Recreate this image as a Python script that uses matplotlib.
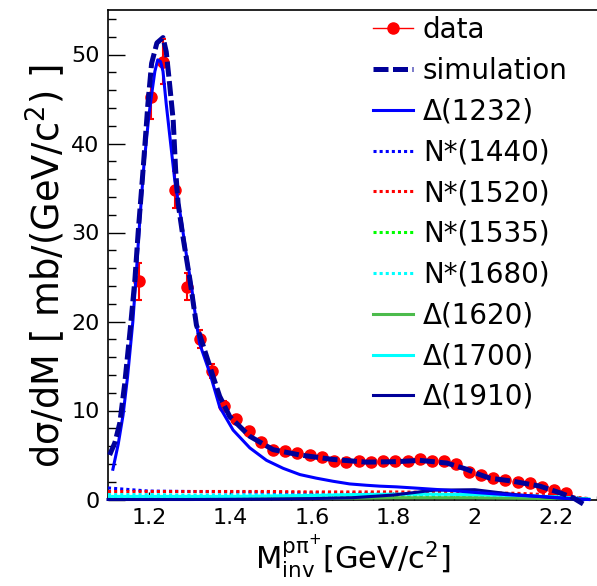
import matplotlib
matplotlib.use("Agg")
import matplotlib.pyplot as plt
from matplotlib.lines import Line2D
from matplotlib.ticker import MultipleLocator

plt.rcParams['font.family'] = ['DejaVu Sans']
plt.rcParams['mathtext.fontset'] = 'dejavusans'

# measured data points (bin centres, dsigma/dM, errors)
data_x = [1.175, 1.205, 1.235, 1.265, 1.295, 1.325, 1.355, 1.385, 1.415, 1.445,
          1.475, 1.505, 1.535, 1.565, 1.595, 1.625, 1.655, 1.685, 1.715, 1.745,
          1.775, 1.805, 1.835, 1.865, 1.895, 1.925, 1.955, 1.985, 2.015, 2.045,
          2.075, 2.105, 2.135, 2.165, 2.195, 2.225]
data_y = [24.5, 45.2, 49.2, 34.8, 23.9, 18.0, 14.4, 10.5, 9.0, 7.7,
          6.5, 5.6, 5.4, 5.2, 4.95, 4.75, 4.3, 4.25, 4.3, 4.25,
          4.3, 4.3, 4.35, 4.5, 4.35, 4.3, 4.0, 3.1, 2.7, 2.4,
          2.2, 2.0, 1.8, 1.4, 1.1, 0.75]
data_err = [2.1, 2.5, 2.5, 2.1, 1.5, 1.0, 0.8, 0.6, 0.5, 0.4,
            0.3, 0.3, 0.3, 0.3, 0.3, 0.3, 0.3, 0.3, 0.3, 0.3,
            0.3, 0.3, 0.3, 0.3, 0.3, 0.3, 0.3, 0.3, 0.3, 0.3,
            0.3, 0.3, 0.3, 0.3, 0.3, 0.3]

# total simulation
sim_x = [1.104, 1.117, 1.129, 1.141, 1.156, 1.166, 1.174, 1.186, 1.198, 1.207,
         1.220, 1.235, 1.243, 1.252, 1.260, 1.266, 1.272, 1.284, 1.301, 1.317,
         1.325, 1.358, 1.374, 1.399, 1.448, 1.505, 1.571, 1.652, 1.734, 1.808,
         1.865, 1.931, 1.980, 2.012, 2.037, 2.094, 2.160, 2.209, 2.241, 2.266]
sim_y = [5.0, 6.4, 8.6, 13.0, 19.8, 24.7, 30.0, 37.0, 44.5, 49.0,
         51.3, 51.9, 50.3, 46.3, 42.6, 37.0, 33.3, 29.5, 24.7, 19.6,
         18.5, 13.8, 11.6, 9.3, 7.1, 5.6, 5.0, 4.5, 4.2, 4.25,
         4.4, 4.1, 3.4, 2.8, 2.4, 2.05, 1.5, 0.75, 0.2, -0.5]

# Delta(1232) contribution
d1232_x = [1.112, 1.125, 1.137, 1.148, 1.161, 1.170, 1.178, 1.188, 1.200, 1.207,
           1.215, 1.222, 1.229, 1.235, 1.243, 1.252, 1.264, 1.280, 1.292, 1.305,
           1.317, 1.325, 1.350, 1.374, 1.407, 1.448, 1.489, 1.530, 1.571, 1.611,
           1.652, 1.693, 1.734, 1.767, 1.808, 1.849, 1.931, 2.012, 2.094, 2.176,
           2.258, 2.28]
d1232_y = [3.4, 6.2, 9.5, 13.8, 20.0, 25.8, 31.4, 37.5, 43.0, 45.5,
           48.1, 49.4, 49.2, 48.1, 44.4, 40.7, 35.8, 31.3, 27.6, 23.9,
           19.8, 17.5, 14.2, 10.4, 7.8, 5.8, 4.4, 3.5, 2.8, 2.4,
           2.05, 1.75, 1.6, 1.5, 1.42, 1.3, 1.05, 0.75, 0.5, 0.3,
           0.02, 0.0]

# small resonance contributions
comp_x = [1.10, 1.20, 1.30, 1.40, 1.50, 1.60, 1.70, 1.80, 1.90, 2.00, 2.10, 2.20, 2.28]
n1440 = [1.3, 0.95, 0.9, 0.85, 0.8, 0.75, 0.7, 0.65, 0.6, 0.5, 0.4, 0.25, 0.05]
n1520 = [0.9, 0.9, 0.9, 0.9, 0.9, 0.85, 0.85, 0.85, 0.8, 0.75, 0.7, 0.5, 0.1]
n1535 = [0.3, 0.3, 0.3, 0.3, 0.35, 0.35, 0.35, 0.35, 0.3, 0.3, 0.25, 0.15, 0.02]
n1680 = [0.55, 0.55, 0.5, 0.5, 0.5, 0.5, 0.55, 0.55, 0.55, 0.5, 0.45, 0.3, 0.05]
d1620 = [0.0, 0.02, 0.03, 0.05, 0.08, 0.12, 0.15, 0.2, 0.2, 0.2, 0.15, 0.1, 0.02]
d1700 = [0.35, 0.35, 0.35, 0.35, 0.4, 0.45, 0.55, 0.6, 0.6, 0.55, 0.45, 0.3, 0.05]
d1910 = [0.0, 0.0, 0.0, 0.02, 0.05, 0.1, 0.2, 0.5, 1.05, 1.1, 0.55, 0.18, 0.0]

navy = '#000099'
dot = (0, (1, 1))

fig = plt.figure(figsize=(5.97, 5.86), dpi=100)
ax = fig.add_axes([108 / 597, 86.5 / 586, 489 / 597, 489.5 / 586])

ax.errorbar(data_x, data_y, yerr=data_err, fmt='o', color='red', ms=8,
            elinewidth=1.5, capsize=2.5, capthick=1.5, zorder=2)

ax.plot(comp_x, n1440, color='blue', lw=2.2, ls=dot, zorder=3)
ax.plot(comp_x, n1520, color='red', lw=2.2, ls=dot, zorder=3)
ax.plot(comp_x, n1535, color='#00ff00', lw=2.2, ls=dot, zorder=3)
ax.plot(comp_x, n1680, color='cyan', lw=2.2, ls=dot, zorder=3)
ax.plot(comp_x, d1620, color='#4cbb4c', lw=2.2, zorder=3)
ax.plot(comp_x, d1700, color='cyan', lw=2.2, zorder=3)
ax.plot(comp_x, d1910, color=navy, lw=2.2, zorder=3, clip_on=False)

ax.plot(d1232_x, d1232_y, color='blue', lw=2.2, zorder=4, clip_on=False)
ax.plot(sim_x, sim_y, color=navy, lw=3.6, dashes=(3, 0.9), zorder=5, clip_on=False)

ax.set_xlim(1.1, 2.3)
ax.set_ylim(0, 55)
ax.xaxis.set_minor_locator(MultipleLocator(0.05))
ax.yaxis.set_major_locator(MultipleLocator(10))
ax.yaxis.set_minor_locator(MultipleLocator(2))
ax.set_xticks([1.2, 1.4, 1.6, 1.8, 2.0, 2.2])
ax.set_xticklabels(['1.2', '1.4', '1.6', '1.8', '2', '2.2'])
ax.tick_params(axis='both', which='both', direction='in', labelsize=16, width=1)
ax.tick_params(axis='y', which='major', length=12, pad=6)
ax.tick_params(axis='y', which='minor', length=6)
ax.tick_params(axis='x', which='major', length=6, pad=6)
ax.tick_params(axis='x', which='minor', length=3)
ax.spines['right'].set_visible(False)
for s in ['left', 'bottom', 'top']:
    ax.spines[s].set_linewidth(1.2)

fig.text(46 / 597, 1 - 266 / 586, 'dσ/dM [ mb/(GeV/c$^{2}$) ]',
         rotation=90, ha='center', va='center', fontsize=26.5)
fig.text(353 / 597, 1 - 570 / 586,
         r'M$_{\mathrm{inv}}^{\mathrm{pπ^{+}}}$[GeV/c$^{2}$]',
         ha='center', va='baseline', fontsize=22)

handles = [
    Line2D([], [], color='red', lw=1, marker='o', ms=8),
    Line2D([], [], color=navy, lw=3.6, dashes=(3, 0.9)),
    Line2D([], [], color='blue', lw=2.2),
    Line2D([], [], color='blue', lw=2.2, ls=dot),
    Line2D([], [], color='red', lw=2.2, ls=dot),
    Line2D([], [], color='#00ff00', lw=2.2, ls=dot),
    Line2D([], [], color='cyan', lw=2.2, ls=dot),
    Line2D([], [], color='#4cbb4c', lw=2.2),
    Line2D([], [], color='cyan', lw=2.2),
    Line2D([], [], color=navy, lw=2.2),
]
labels = ['data', 'simulation', 'Δ(1232)', 'N*(1440)', 'N*(1520)', 'N*(1535)',
          'N*(1680)', 'Δ(1620)', 'Δ(1700)', 'Δ(1910)']
leg = ax.legend(handles, labels, loc='upper left',
                bbox_to_anchor=(373 / 597, 1 - 16 / 586), bbox_transform=fig.transFigure,
                fontsize=20, handlelength=1.44, handletextpad=0.36,
                labelspacing=0.46, borderpad=0, borderaxespad=0,
                frameon=True, facecolor='white', edgecolor='none', framealpha=1)

fig.savefig('out.png', dpi=100)
